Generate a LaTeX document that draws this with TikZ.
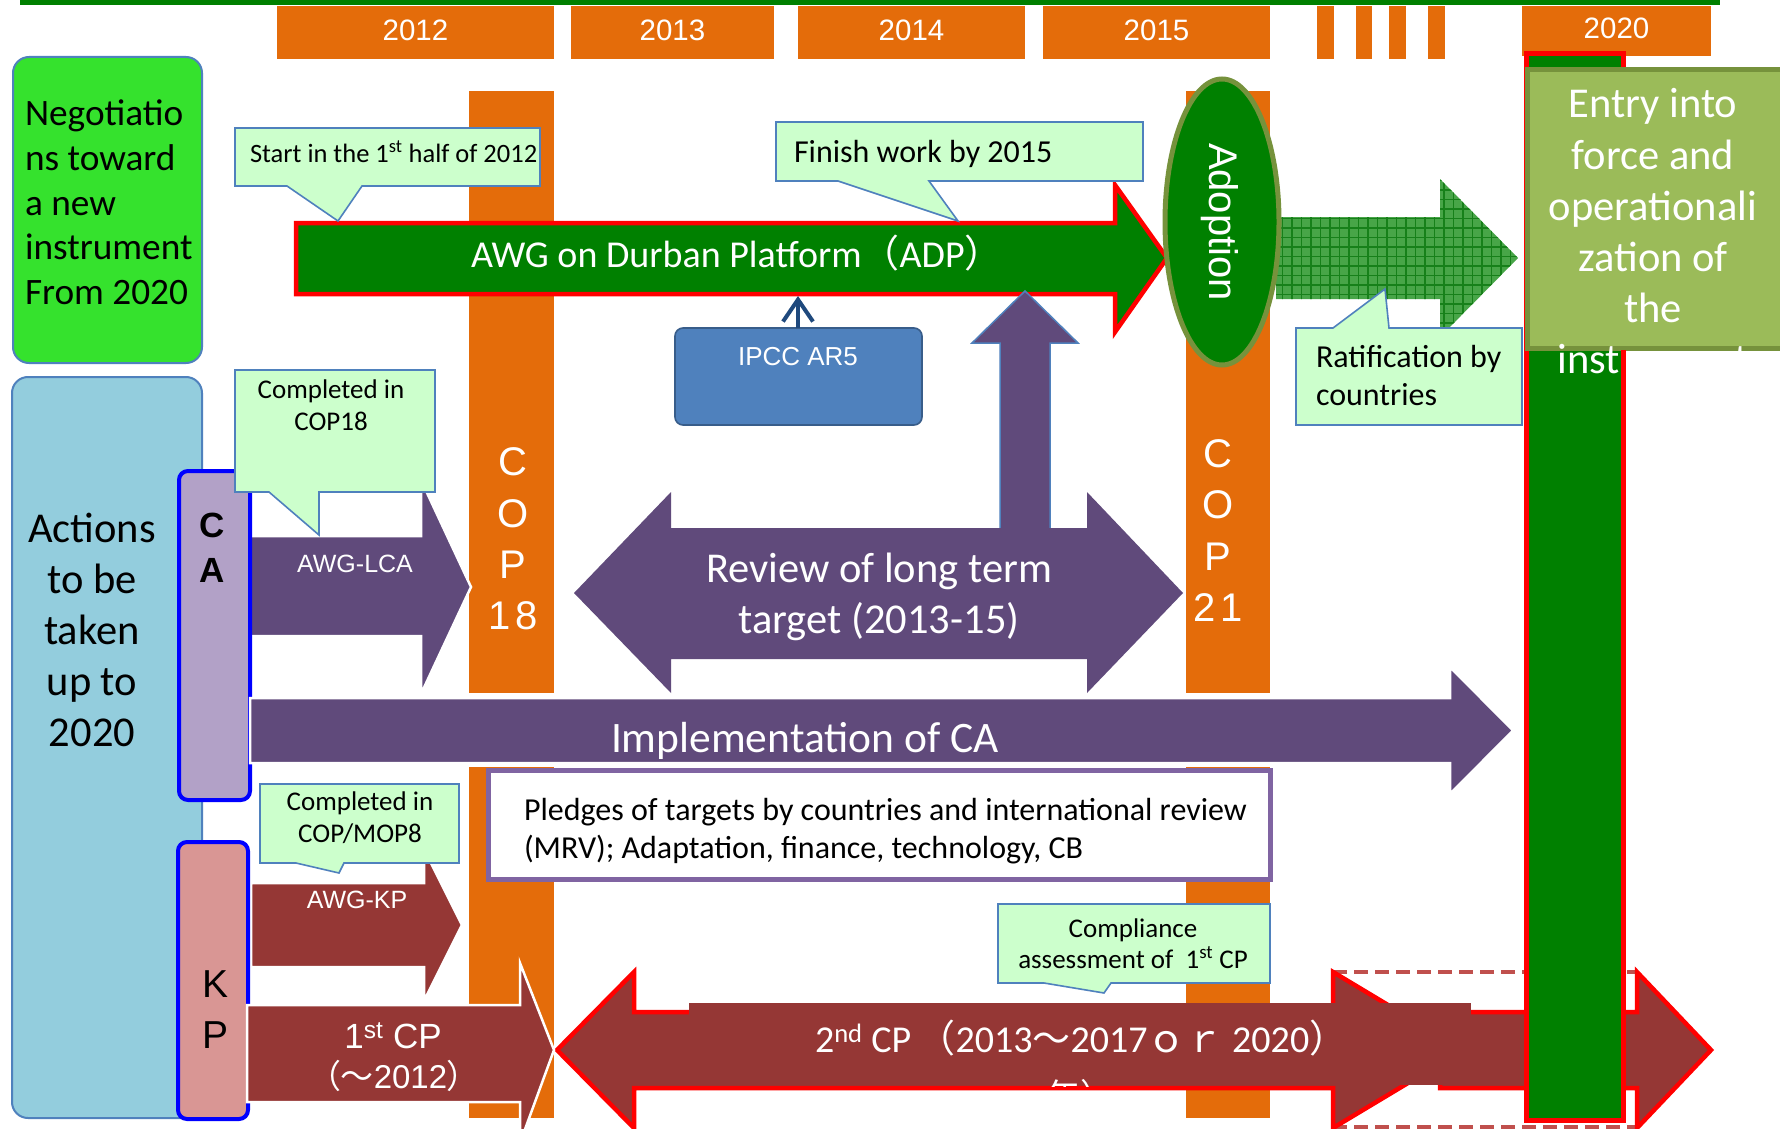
\documentclass[tikz,border=0pt]{standalone}
\usepackage{fontspec}
\setmainfont{Carlito}
\newfontfamily\arialf{Liberation Sans}
\newfontfamily\cjkf{Noto Sans CJK JP}
\newfontfamily\cjkp[RawFeature=+palt]{Noto Sans CJK JP}
\usetikzlibrary{arrows.meta}
\definecolor{orng}{HTML}{E46C0A}
\definecolor{dgreen}{HTML}{008000}
\definecolor{purp}{HTML}{604A7B}
\definecolor{dred}{HTML}{953735}
\definecolor{calfill}{HTML}{CCFFCC}
\definecolor{calline}{HTML}{4F81BD}
\definecolor{neggreen}{HTML}{35E22D}
\definecolor{actblue}{HTML}{93CDDD}
\definecolor{calav}{HTML}{B2A1C7}
\definecolor{kppink}{HTML}{D99694}
\definecolor{olivef}{HTML}{9BBB59}
\definecolor{olivel}{HTML}{76923C}
\definecolor{ipccfill}{HTML}{4F81BD}
\definecolor{ipccline}{HTML}{385D8A}
\definecolor{navyc}{HTML}{1F497D}
\definecolor{pledgeline}{HTML}{8064A2}
\definecolor{dashred}{HTML}{C0504D}
\definecolor{hatchfill}{HTML}{48A548}
\definecolor{hatchline}{HTML}{17801A}
\newcommand\fsz[2]{\fontsize{#1}{#2}\selectfont}
\begin{document}
\begin{tikzpicture}[x=1pt,y=-1pt,
  every node/.style={inner sep=0pt, outer sep=0pt},
  orangebar/.style={fill=orng},
  yeartext/.style={text=white, font=\arialf\fsz{29.5}{34}, anchor=base},
  coptext/.style={text=white, font=\arialf\fsz{40}{44}, anchor=base},
  callout/.style={fill=calfill, draw=calline, line width=1.6pt, line join=miter},
  caltext/.style={text=black, font=\fsz{27}{31}, anchor=base},
  purplearrow/.style={fill=purp, draw=white, line width=2.5pt, line join=miter},
  redarrow/.style={fill=dred, draw=white, line width=2.5pt, line join=miter},
  redborder/.style={fill=dred, draw=red, line width=4.5pt, line join=miter},
  whitetext/.style={text=white, anchor=base},
  blacktext/.style={text=black, anchor=base},
  sidebox/.style={draw=blue, line width=4pt, rounded corners=9pt},
  bigbox/.style={draw=calline, line width=2pt, rounded corners=16pt},
]
\useasboundingbox (0,0) rectangle (1780,1129);
\clip (0,0) rectangle (1780,1129);
\fill[white] (0,0) rectangle (1780,1129);

% top line and year boxes
\fill[dgreen] (20,0) rectangle (1720,5);
\fill[orangebar] (277,6) rectangle (554,59);
\fill[orangebar] (571,6) rectangle (774,59);
\fill[orangebar] (798,6) rectangle (1025,59);
\fill[orangebar] (1043,6) rectangle (1270,59);
\fill[orangebar] (1317,6) rectangle (1334,59);
\fill[orangebar] (1356,6) rectangle (1372,59);
\fill[orangebar] (1389,6) rectangle (1406,59);
\fill[orangebar] (1428,6) rectangle (1445,59);
\fill[orangebar] (1522,6) rectangle (1711,56);
\node[yeartext] (y2012) at (415.5,41) {2012};
\node[yeartext] (y2013) at (672.5,41) {2013};
\node[yeartext] (y2014) at (911.5,41) {2014};
\node[yeartext] (y2015) at (1156.5,41) {2015};
\node[yeartext] (y2020) at (1616.5,39) {2020};

% COP bars
\fill[orangebar] (469,91) rectangle (554,693);
\fill[orangebar] (469,767) rectangle (554,1118);
\fill[orangebar] (1186,91) rectangle (1270,693);
\fill[orangebar] (1186,767) rectangle (1270,1118);
\node[coptext] (c18a) at (513,475) {C};
\node[coptext] (c18b) at (513,527) {O};
\node[coptext] (c18c) at (513,578) {P};
\node[coptext] (c18d) at (513,629) {1\kern5pt 8};
\node[coptext] (c21a) at (1218,467) {C};
\node[coptext] (c21b) at (1218,518) {O};
\node[coptext] (c21c) at (1218,570) {P};
\node[coptext] (c21d) at (1218,621) {2\kern5pt 1};

% left boxes
\filldraw[bigbox, fill=neggreen] (13,57) rectangle (202,363);
\foreach \t/\yy [count=\i] in {Negotiatio/126, ns toward/170, a new/215, instrument/259, From 2020/304}
  {\node[blacktext, anchor=base west, font=\fsz{37.3}{44}] (neg\i) at (25,\yy) {\t};}
\filldraw[bigbox, fill=actblue] (12,377) rectangle (202,1118);
\foreach \t/\yy [count=\i] in {Actions/542, to be/593, taken/644, up to/695, 2020/746}
  {\node[blacktext, font=\fsz{42.5}{48}] (act\i) at (92,\yy) {\t};}

% ADP arrow
\filldraw[redborder, fill=dgreen] (296,223) -- (1115,223) -- (1115,185) -- (1167,258) -- (1115,332) -- (1115,294) -- (296,294) -- cycle;
\node[whitetext, anchor=base west, font=\fsz{38}{42}] (adp) at (471,267) {AWG on Durban Platform{\cjkf （}ADP{\cjkf ）}};
\coordinate (adpbottom) at (798,296);

% callouts top
\filldraw[callout] (235,128) -- (540,128) -- (540,186) -- (362,186) -- (338,221) -- (287,186) -- (235,186) -- cycle;
\node[blacktext, anchor=base west, font=\fsz{26.5}{30}] (start) at (250,162) {Start in the 1\textsuperscript{st} half of 2012};
\filldraw[callout] (776,122) -- (1143,122) -- (1143,181) -- (929,181) -- (958,221) -- (838,181) -- (776,181) -- cycle;
\node[blacktext, anchor=base west, font=\fsz{32}{36}] (finish) at (794,162) {Finish work by 2015};

% IPCC
\filldraw[fill=ipccfill, draw=ipccline, line width=1.6pt, rounded corners=8pt] (675,328) rectangle (922,425);
\coordinate (ipcctop) at (798,328);
\node[whitetext, font=\arialf\fsz{26}{30}] (ipcc) at (798,365) {IPCC AR5};
\draw[navyc, line width=4pt, -{Straight Barb[length=22pt,width=30pt,line width=4pt]}] (ipcctop) -- (adpbottom);

% purple up arrow
\filldraw[fill=purp, draw=calline, line width=1.5pt, line join=miter] (1000,529) -- (1000,343) -- (972,343) -- (1025,291) -- (1078,343) -- (1050,343) -- (1050,529) -- cycle;

% review double arrow
\fill[purp] (574,593) -- (671,492) -- (671,528) -- (1087,528) -- (1087,492) -- (1183,593) -- (1087,693) -- (1087,659) -- (671,659) -- (671,693) -- cycle;
\node[whitetext, font=\fsz{42.5}{48}] (rev1) at (879,582) {Review of long term};
\node[whitetext, font=\fsz{42.5}{48}] (rev2) at (879,633) {target (2013-15)};

% hatched arrow
\begin{scope}
  \clip (1276,217) -- (1440,217) -- (1440,179) -- (1518,258) -- (1440,337) -- (1440,299) -- (1276,299) -- cycle;
  \fill[hatchfill] (1270,170) rectangle (1525,345);
  \draw[hatchline, line width=1.3pt, step=9.5pt] (1270,170) grid (1525,345);
\end{scope}

% adoption ellipse
\filldraw[fill=dgreen, draw=olivel, line width=5pt] (1222,222) ellipse [x radius=57pt, y radius=143pt];
\node[text=white, rotate=-90, font=\arialf\fsz{40}{44}] (adopt) at (1220,222) {Adoption};

% ratification callout
\filldraw[callout] (1296,328) -- (1333,328) -- (1385,289) -- (1389,328) -- (1522,328) -- (1522,425) -- (1296,425) -- cycle;
\node[blacktext, anchor=base west, font=\fsz{32}{36}] (rat1) at (1316,367) {Ratification by};
\node[blacktext, anchor=base west, font=\fsz{32}{36}] (rat2) at (1316,405) {countries};

% AWG-LCA
\filldraw[purplearrow] (248,536) -- (421,536) -- (421,480) -- (471,587) -- (421,694) -- (421,636) -- (248,636) -- cycle;
\node[whitetext, font=\arialf\fsz{25}{28}] (lca) at (355,572) {AWG-LCA};
\filldraw[sidebox, fill=calav] (179,471) rectangle (250,800);
\node[blacktext, font=\arialf\bfseries\fsz{35}{40}] (caC) at (212,537) {C};
\node[blacktext, font=\arialf\bfseries\fsz{35}{40}] (caA) at (212,582) {A};
\filldraw[callout] (235,370) -- (435,370) -- (435,492) -- (319,492) -- (319,535) -- (269,492) -- (235,492) -- cycle;
\node[caltext] (cc1) at (331,398) {Completed in};
\node[caltext] (cc2) at (331,430) {COP18};

% implementation arrow
\filldraw[purplearrow] (250,698) -- (1450,698) -- (1450,667) -- (1513,730.5) -- (1450,794) -- (1450,763) -- (250,763) -- cycle;
\node[whitetext, anchor=base west, font=\fsz{43.5}{48}] (impl) at (611,752) {Implementation of CA};

% pledges box
\filldraw[fill=white, draw=pledgeline, line width=5pt] (488,770) rectangle (1270,879);
\node[blacktext, anchor=base west, font=\fsz{32}{36}] (pl1) at (524,820) {Pledges of targets by countries and international review};
\node[blacktext, anchor=base west, font=\fsz{32}{36}] (pl2) at (524,858) {(MRV); Adaptation, finance, technology, CB};

% AWG-KP
\filldraw[redarrow] (251,883) -- (424,883) -- (424,849) -- (462,925) -- (424,1001) -- (424,967) -- (251,967) -- cycle;
\node[whitetext, font=\arialf\fsz{25}{28}] (kp) at (357,908) {AWG-KP};
\filldraw[sidebox, fill=kppink] (178,842) rectangle (248,1119);
\node[blacktext, font=\arialf\fsz{39}{44}] (kpK) at (216,997) {K};
\node[blacktext, font=\arialf\fsz{39}{44}] (kpP) at (216,1048) {P};
\filldraw[callout] (260,784) -- (459,784) -- (459,863) -- (344,863) -- (339,873) -- (296,863) -- (260,863) -- cycle;
\node[caltext] (cm1) at (360,810) {Completed in};
\node[caltext] (cm2) at (360,842) {COP/MOP8};

% 2nd CP
\draw[dashred, line width=4.5pt, dash pattern=on 14pt off 7pt] (1333,972) -- (1637,972);
\draw[dashred, line width=4.5pt, dash pattern=on 14pt off 7pt] (1333,1127) -- (1637,1127);
\filldraw[redborder] (1440,1012) -- (1637,1012) -- (1637,972) -- (1711,1050) -- (1637,1128) -- (1637,1088) -- (1440,1088) -- cycle;
\filldraw[redborder] (557,1050) -- (634,972) -- (634,1012) -- (1333,1012) -- (1333,972) -- (1463,1050) -- (1333,1128) -- (1333,1088) -- (634,1088) -- (634,1128) -- cycle;
\fill[dred] (689,1003) rectangle (1471,1085);
\node[whitetext, anchor=base west, font=\fsz{38}{42}] (cp2) at (815,1052) {2\textsuperscript{nd} CP\,{\cjkf （}2013{\cjkf ～}2017{\cjkf ｏｒ} 2020{\cjkf ）}};
\begin{scope}
  \clip (600,1000) rectangle (1500,1086);
  \node[whitetext, anchor=base west, font=\cjkf\fsz{34}{40}] (nen) at (1046,1108) {年）};
\end{scope}

% 1st CP
\filldraw[redarrow] (247,1005) -- (520,1005) -- (520,963) -- (554,1050) -- (520,1143) -- (520,1102) -- (247,1102) -- cycle;
\node[whitetext, font=\arialf\fsz{35}{40}] (cp1a) at (393,1048) {1\textsuperscript{st} CP};
\node[whitetext, font=\arialf\fsz{33}{38}] (cp1b) at (394,1088) {{\cjkp （～}2012{\cjkp ）}};

% compliance callout
\filldraw[callout] (998,904) -- (1270,904) -- (1270,983) -- (1111,983) -- (1104,993) -- (1044,983) -- (998,983) -- cycle;
\node[caltext] (co1) at (1133,937) {Compliance};
\node[caltext] (co2) at (1133,968) {assessment of\ \ 1\textsuperscript{st} CP};

% 2020 bar and entry box
\filldraw[fill=dgreen, draw=red, line width=5pt] (1526,54) rectangle (1623,1120);
\filldraw[fill=olivef, draw=olivel, line width=5pt] (1527,70) rectangle (1800,348);
\foreach \t/\yy [count=\i] in {Entry into/118, force and/169, operationali/220, zation of/271, the/322, instrument/373}
  {\node[whitetext, font=\fsz{42.5}{48}] (entry\i) at (1653,\yy) {\t};}
\draw[red, line width=5pt] (1623,350) -- (1623,1120);
\end{tikzpicture}
\end{document}
